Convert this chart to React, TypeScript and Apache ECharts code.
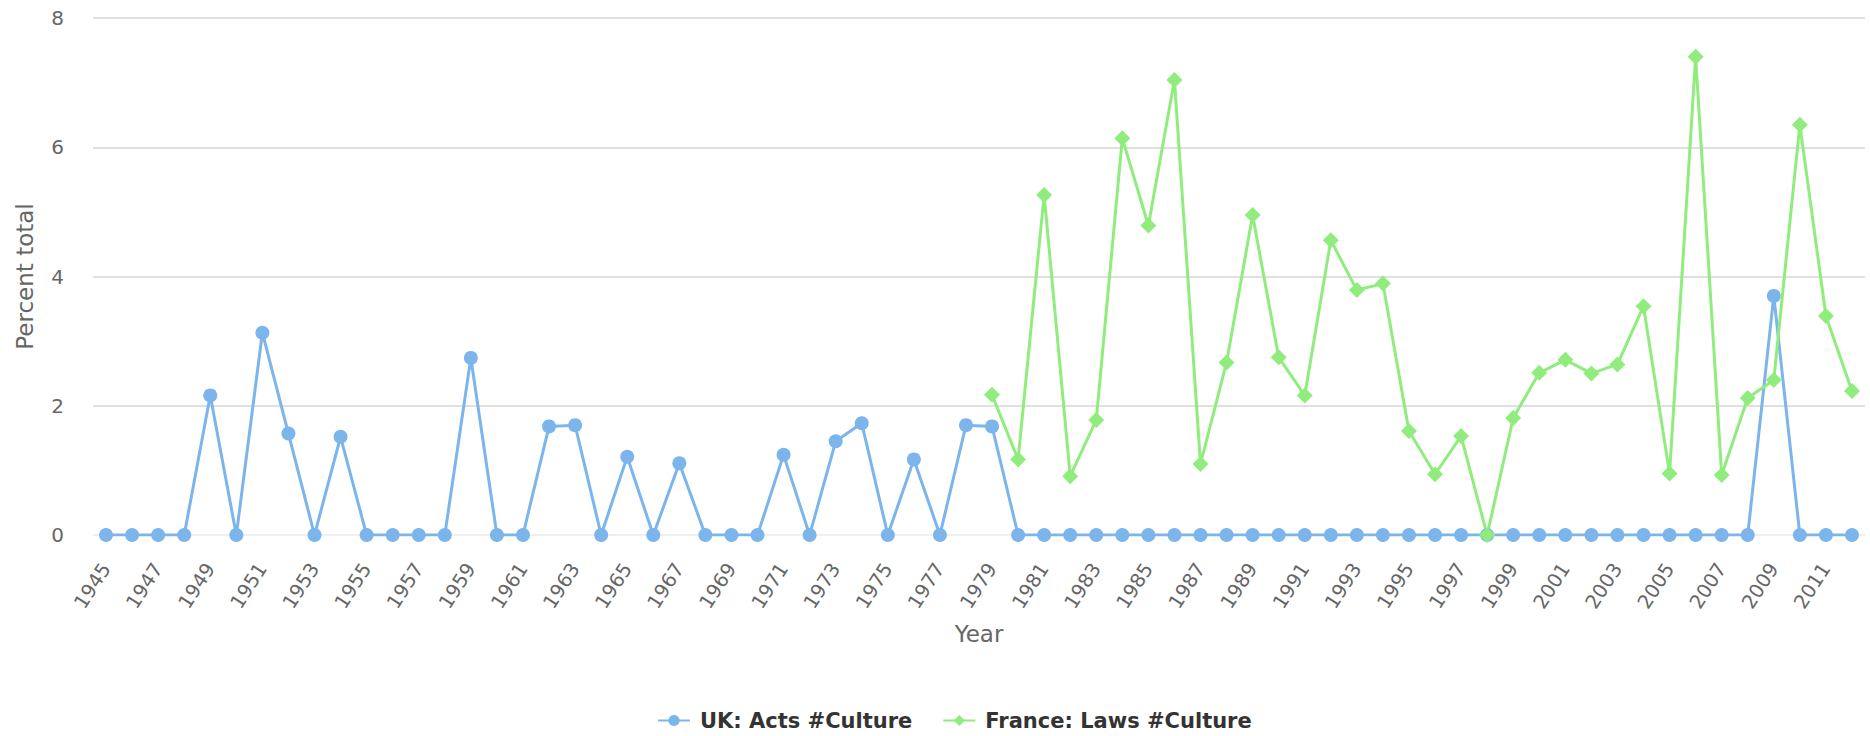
import React, { useEffect, useRef } from "react";
import * as echarts from "echarts";

const years: string[] = [];
for (let y = 1945; y <= 2012; y++) years.push(String(y));

const ukActs: number[] = [
  0, 0, 0, 0, 2.16, 0, 3.13, 1.57, 0, 1.52,
  0, 0, 0, 0, 2.74, 0, 0, 1.68, 1.70, 0,
  1.21, 0, 1.11, 0, 0, 0, 1.24, 0, 1.45, 1.73,
  0, 1.17, 0, 1.70, 1.68, 0, 0, 0, 0, 0,
  0, 0, 0, 0, 0, 0, 0, 0, 0, 0,
  0, 0, 0, 0, 0, 0, 0, 0, 0, 0,
  0, 0, 0, 0, 3.70, 0, 0, 0,
];

const franceLaws: (number | null)[] = [
  null, null, null, null, null, null, null, null, null, null,
  null, null, null, null, null, null, null, null, null, null,
  null, null, null, null, null, null, null, null, null, null,
  null, null, null, null,
  2.17, 1.17, 5.26, 0.91, 1.78, 6.14, 4.79, 7.04, 1.10, 2.67,
  4.95, 2.75, 2.16, 4.56, 3.79, 3.89, 1.61, 0.94, 1.53, 0,
  1.81, 2.51, 2.71, 2.50, 2.64, 3.54, 0.95, 7.40, 0.93, 2.12,
  2.40, 6.35, 3.39, 2.23,
];

const yTicks = { min: 0, max: 8, interval: 2 };

export default function App() {
  const ref = useRef<HTMLDivElement>(null);
  useEffect(() => {
    if (!ref.current) return;
    const chart = echarts.init(ref.current, undefined, { renderer: "svg" });
    const font = "DejaVu Sans";
    chart.setOption({
      animation: false,
      backgroundColor: "#ffffff",
      textStyle: { fontFamily: font },
      grid: {
        left: 93,
        right: 5,
        top: 18,
        height: 517,
        containLabel: false,
        outerBoundsMode: "none",
      },
      legend: {
        bottom: 0,
        left: 652,
        itemWidth: 32,
        itemHeight: 14,
        itemGap: 30,
        textStyle: {
          fontFamily: font,
          fontSize: 21,
          fontWeight: "bold",
          color: "#333333",
          padding: [0, 0, 0, 5],
        },
        data: ["UK: Acts #Culture", "France: Laws #Culture"],
      },
      xAxis: {
        type: "category",
        data: years,
        boundaryGap: true,
        name: "Year",
        nameLocation: "middle",
        nameGap: 87,
        nameTextStyle: { fontFamily: font, fontSize: 23, color: "#666666" },
        axisLine: { show: true, lineStyle: { color: "#eeeeee", width: 1.5 } },
        axisTick: { show: false },
        axisLabel: {
          interval: 1,
          rotate: 57,
          margin: 30,
          padding: [0, 0, 12, 0],
          fontFamily: font,
          fontSize: 19.5,
          color: "#666666",
        },
        splitLine: { show: false },
      },
      yAxis: {
        type: "value",
        min: yTicks.min,
        max: yTicks.max,
        interval: yTicks.interval,
        name: "Percent total",
        nameLocation: "middle",
        nameGap: 57,
        nameTextStyle: { fontFamily: font, fontSize: 23, color: "#666666" },
        axisLine: { show: false },
        axisTick: { show: false },
        axisLabel: { margin: 29, fontFamily: font, fontSize: 20, color: "#666666" },
        splitLine: {
          show: true,
          lineStyle: { color: ["#eeeeee", "#d6d6d6", "#d6d6d6", "#d6d6d6", "#d6d6d6"], width: 1.5 },
        },
      },
      series: [
        {
          name: "UK: Acts #Culture",
          type: "line",
          data: ukActs,
          symbol: "circle",
          symbolSize: 14,
          showAllSymbol: true,
          lineStyle: { color: "#7cb5ec", width: 3 },
          itemStyle: { color: "#7cb5ec" },
        },
        {
          name: "France: Laws #Culture",
          type: "line",
          data: franceLaws,
          symbol: "diamond",
          symbolSize: 16,
          showAllSymbol: true,
          lineStyle: { color: "#90ed7d", width: 3 },
          itemStyle: { color: "#90ed7d" },
        },
      ],
    });
    return () => chart.dispose();
  }, []);
  return (
    <div
      ref={ref}
      style={{ position: "absolute", left: 0, top: 0, width: 1870, height: 736 }}
    />
  );
}
